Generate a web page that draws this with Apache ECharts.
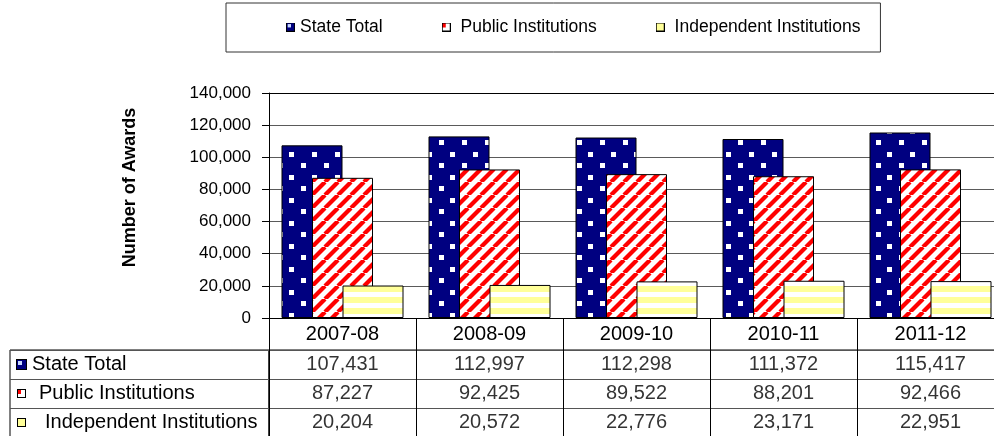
<!DOCTYPE html>
<html>
<head>
<meta charset="utf-8">
<script src="https://cdn.jsdelivr.net/npm/echarts@6/dist/echarts.min.js"></script>
<style>
html,body{margin:0;padding:0;background:#fff;}
#chart{width:994px;height:436px;}
</style>
</head>
<body>
<div id="chart"></div>
<script>
// ---- data ----
const categories = ['2007-08', '2008-09', '2009-10', '2010-11', '2011-12'];
const seriesNames = ['State Total', 'Public Institutions', 'Independent Institutions'];
const stateTotal = [107431, 112997, 112298, 111372, 115417];
const publicInstitutions = [87227, 92425, 89522, 88201, 92466];
const independentInstitutions = [20204, 20572, 22776, 23171, 22951];
const yMin = 0, yMax = 140000, yStep = 20000;
const yAxisTitle = 'Number of Awards';

// ---- helpers ----
const FONT = '"Liberation Sans", Arial, Helvetica, sans-serif';
function fmt(v) { return String(v).replace(/\B(?=(\d{3})+(?!\d))/g, ','); }
function makeCanvas(w, h, draw) {
  const c = document.createElement('canvas');
  c.width = w; c.height = h;
  draw(c.getContext('2d'));
  return c;
}
// bar patterns
const dotsPat = makeCanvas(23, 23, ctx => {
  ctx.fillStyle = '#000080'; ctx.fillRect(0, 0, 23, 23);
  ctx.fillStyle = '#ffffff';
  ctx.fillRect(2, 2, 5, 5);
  ctx.fillRect(13, 14, 5, 5);
});
const stripePat = makeCanvas(13, 13, ctx => {
  ctx.fillStyle = '#ffffff'; ctx.fillRect(0, 0, 13, 13);
  ctx.strokeStyle = '#ff0000'; ctx.lineWidth = 4.2;
  for (let k = -13; k <= 26; k += 13) {
    ctx.beginPath(); ctx.moveTo(k, 13); ctx.lineTo(k + 13, 0); ctx.stroke();
  }
});
const hStripePat = makeCanvas(4, 11, ctx => {
  ctx.fillStyle = '#ffffff'; ctx.fillRect(0, 0, 4, 11);
  ctx.fillStyle = '#ffff99'; ctx.fillRect(0, 0, 4, 6);
});
// small key icons
const iconState = makeCanvas(11, 11, ctx => {
  ctx.fillStyle = '#000080'; ctx.fillRect(0, 0, 11, 11);
  ctx.fillStyle = '#c8d8ff'; ctx.fillRect(2, 2, 4, 4);
  ctx.strokeStyle = '#000'; ctx.lineWidth = 1; ctx.strokeRect(0.5, 0.5, 10, 10);
});
const iconPublic = makeCanvas(9, 9, ctx => {
  ctx.fillStyle = '#ffffff'; ctx.fillRect(0, 0, 9, 9);
  ctx.fillStyle = '#ff0000'; ctx.fillRect(1, 1, 3, 4);
  ctx.strokeStyle = '#000'; ctx.lineWidth = 1; ctx.strokeRect(0.5, 0.5, 8, 8);
});
const iconIndep = makeCanvas(9, 9, ctx => {
  ctx.fillStyle = '#ffff99'; ctx.fillRect(0, 0, 9, 9);
  ctx.strokeStyle = '#000'; ctx.lineWidth = 1; ctx.strokeRect(0.5, 0.5, 8, 8);
});

const seriesValues = [stateTotal, publicInstitutions, independentInstitutions];
const patterns = [dotsPat, stripePat, hStripePat];
const icons = [iconState, iconPublic, iconIndep];

const barSeries = seriesNames.map((name, i) => ({
  name: name,
  type: 'bar',
  xAxisIndex: 0, yAxisIndex: 0,
  barWidth: 61,
  barGap: '-50%',
  data: seriesValues[i],
  itemStyle: { color: { image: patterns[i], repeat: 'repeat' }, borderColor: '#000', borderWidth: 1 }
}));

const tableData = [];
seriesValues.forEach((arr, r) => arr.forEach((v, c) => tableData.push([c, r, v])));

const splitColors = [];
for (let v = yMin; v <= yMax; v += yStep) splitColors.push(v === yMax ? '#000' : '#5a5a5a');

const chart = echarts.init(document.getElementById('chart'), null, { renderer: 'canvas' });
chart.setOption({
  animation: false,
  backgroundColor: '#ffffff',
  textStyle: { fontFamily: FONT, color: '#000' },
  legend: {
    left: 226, top: 3,
    padding: [15, 20, 16, 60],
    itemGap: 59,
    itemWidth: 9, itemHeight: 9,
    borderColor: '#333', borderWidth: 1,
    backgroundColor: '#fff',
    data: seriesNames.map((n, i) => ({ name: n, icon: 'image://' + icons[i].toDataURL() })),
    formatter: n => n === 'State Total' ? n : ' ' + n,
    textStyle: { fontSize: 17.5, color: '#000', fontFamily: FONT }
  },
  grid: [
    { left: 269, top: 93, width: 735, height: 225, outerBoundsMode: 'none', containLabel: false },
    { left: 269, top: 350, width: 735, height: 87, outerBoundsMode: 'none', containLabel: false, show: true, borderColor: '#000', borderWidth: 1, backgroundColor: 'transparent' },
    { left: 10, top: 350, width: 259, height: 87, outerBoundsMode: 'none', containLabel: false, show: true, borderColor: '#000', borderWidth: 1, backgroundColor: 'transparent' }
  ],
  xAxis: [
    { gridIndex: 0, type: 'category', data: categories,
      axisLine: { lineStyle: { color: '#000', width: 1 } },
      axisTick: { show: true, length: 32, lineStyle: { color: '#000' } },
      axisLabel: { fontSize: 20, color: '#000', margin: 6, fontFamily: FONT } },
    { gridIndex: 1, type: 'category', data: categories,
      axisLine: { show: false }, axisTick: { show: false }, axisLabel: { show: false },
      splitLine: { show: true, lineStyle: { color: '#000' } } },
    { gridIndex: 2, type: 'value', show: false }
  ],
  yAxis: [
    { gridIndex: 0, type: 'value', min: yMin, max: yMax, interval: yStep,
      axisLine: { show: true, lineStyle: { color: '#000' } },
      axisTick: { show: true, length: 7, lineStyle: { color: '#000' } },
      axisLabel: { fontSize: 17, color: '#000', margin: 18, formatter: v => fmt(v), fontFamily: FONT },
      splitLine: { show: true, lineStyle: { color: splitColors } },
      name: yAxisTitle, nameLocation: 'middle', nameGap: 130,
      nameTextStyle: { fontSize: 18, fontWeight: 'bold', color: '#000', fontFamily: FONT, padding: [0, 0, 0, 36] } },
    { gridIndex: 1, type: 'category', data: seriesNames, inverse: true,
      axisLine: { show: false }, axisTick: { show: false }, axisLabel: { show: false },
      splitLine: { show: true, lineStyle: { color: '#555' } } },
    { gridIndex: 2, type: 'category', data: seriesNames, inverse: true,
      axisLine: { show: false }, axisTick: { show: false },
      splitLine: { show: true, lineStyle: { color: '#555' } },
      axisLabel: { inside: true, margin: 6, color: '#000', fontSize: 20, fontFamily: FONT,
        formatter: (v) => {
          const idx = seriesNames.indexOf(v);
          return ['{s|}{t1|' + v + '}', '{sp|}{p|}{t2|' + v + '}', '{sp|}{q|}{t3|' + v + '}'][idx];
        },
        rich: {
          s: { width: 11, height: 11, backgroundColor: { image: iconState } },
          p: { width: 9, height: 9, backgroundColor: { image: iconPublic } },
          q: { width: 9, height: 9, backgroundColor: { image: iconIndep } },
          sp: { width: 1 },
          t1: { fontSize: 20, fontFamily: FONT, color: '#000', padding: [0, 0, 0, 5] },
          t2: { fontSize: 20, fontFamily: FONT, color: '#000', padding: [0, 0, 0, 13] },
          t3: { fontSize: 20, fontFamily: FONT, color: '#000', padding: [0, 0, 0, 19] }
        } } }
  ],
  series: barSeries.concat([{
    type: 'scatter', name: 'table',
    xAxisIndex: 1, yAxisIndex: 1,
    symbolSize: 1,
    itemStyle: { color: 'transparent' },
    data: tableData,
    encode: { x: 0, y: 1 },
    label: { show: true, position: 'inside', formatter: p => fmt(p.value[2]),
      fontSize: 20, color: '#000', fontFamily: FONT },
    silent: true
  }])
});
</script>
</body>
</html>
